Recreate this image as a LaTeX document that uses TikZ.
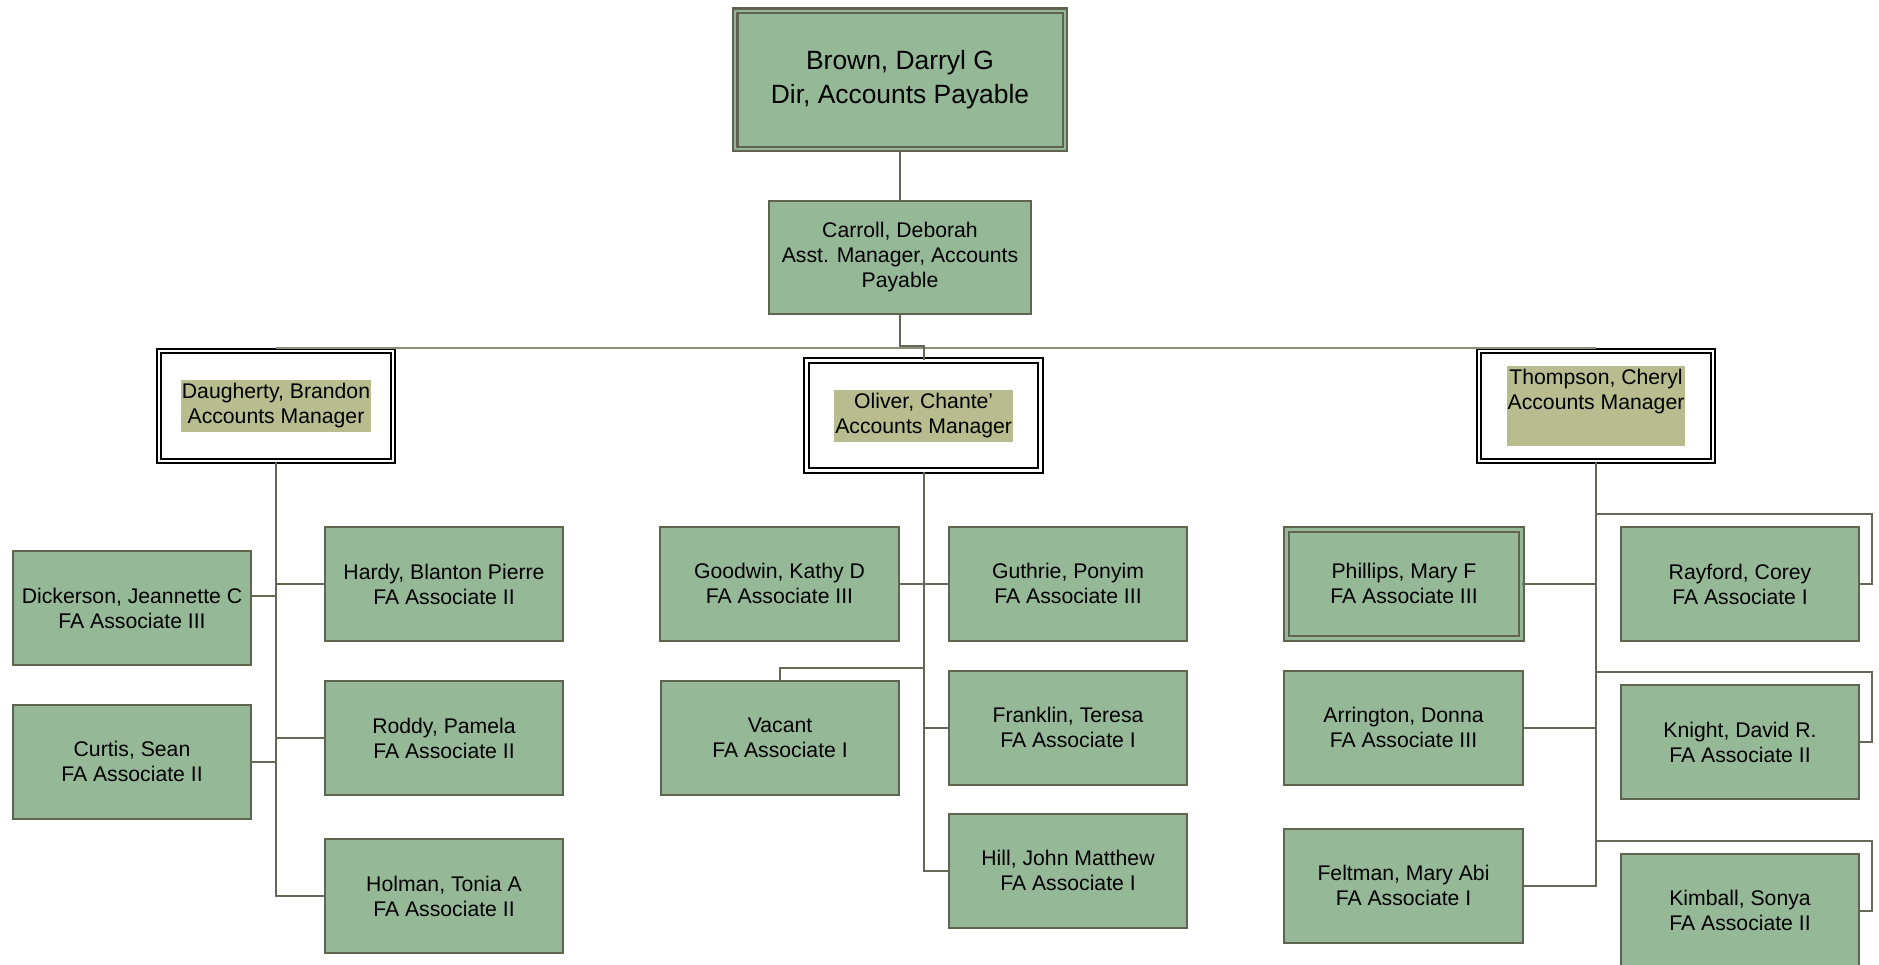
\documentclass[tikz,border=0pt]{standalone}
\usepackage{fontspec}
\setmainfont{Liberation Sans}
\usepackage{tikz}
\usetikzlibrary{positioning}
\definecolor{boxfill}{RGB}{149,184,151}
\definecolor{boxline}{RGB}{95,99,80}
\definecolor{hlfill}{RGB}{184,188,143}
\definecolor{linkcol}{RGB}{100,104,86}
\definecolor{buscol}{RGB}{140,142,122}
\newcommand{\stafffont}{\fontsize{10.6pt}{12.5pt}\selectfont}
\tikzset{
  staff/.style={draw=boxline, fill=boxfill, line width=1pt, minimum width=119.3pt, minimum height=57pt, inner sep=0pt, align=center, font=\stafffont},
  staffdbl/.style={staff, double=boxfill, line width=1.1pt, double distance=1.4pt, minimum width=117.2pt, minimum height=54.4pt},
  head/.style={staffdbl, double distance=1.2pt, minimum width=164.9pt, minimum height=69.1pt, font=\fontsize{13.2pt}{17pt}\selectfont},
  mgr/.style={draw=black, fill=white, double=white, line width=1pt, double distance=1.3pt, minimum width=117pt, minimum height=55pt},
  mgrtext/.style={fill=hlfill, inner xsep=0.5pt, inner ysep=1.8pt, align=center, font=\stafffont},
  link/.style={draw=linkcol, line width=1pt},
  bus/.style={draw=buscol, line width=0.8pt}
}
\begin{document}
\begin{tikzpicture}[x=0.5pt,y=-0.5pt]
  \useasboundingbox (0,0) rectangle (1879,964);
  \node[head] (brown) at (900,79.8) {Brown, Darryl G\\Dir, Accounts Payable};
  \node[staff, minimum width=131.3pt, minimum height=56.5pt] (carroll) at (900,257.5) {Carroll, Deborah\\Asst. Manager, Accounts\\Payable};

  \node[mgr] (dau) at (276,406) {};
  \node[mgrtext] (daut) at (dau) {Daugherty, Brandon\\Accounts Manager};
  \node[mgr] (oli) at (923.7,415.7) {};
  \node[mgrtext] (olit) at (oli) {Oliver, Chante’\\Accounts Manager};
  \node[mgr] (tho) at (1596,406) {};
  \node[mgrtext] (thot) at (tho) {Thompson, Cheryl\\Accounts Manager\\\strut};

  \node[staff] (dick) at (132,608) {Dickerson, Jeannette C\\FA Associate III};
  \node[staff] (hardy) at (444,584) {Hardy, Blanton Pierre\\FA Associate II};
  \node[staff] (curtis) at (132,761.5) {Curtis, Sean\\FA Associate II};
  \node[staff] (roddy) at (444,738) {Roddy, Pamela\\FA Associate II};
  \node[staff] (holman) at (444,896.3) {Holman, Tonia A\\FA Associate II};

  \node[staff] (goodwin) at (779.5,583.5) {Goodwin, Kathy D\\FA Associate III};
  \node[staff] (guthrie) at (1068,583.5) {Guthrie, Ponyim\\FA Associate III};
  \node[staff] (vacant) at (780,737.5) {Vacant\\FA Associate I};
  \node[staff] (franklin) at (1068,727.5) {Franklin, Teresa\\FA Associate I};
  \node[staff] (hill) at (1068,870.5) {Hill, John Matthew\\FA Associate I};

  \node[staffdbl] (phillips) at (1404,583.7) {Phillips, Mary F\\FA Associate III};
  \node[staff] (arrington) at (1403.5,727.5) {Arrington, Donna\\FA Associate III};
  \node[staff] (feltman) at (1403.5,885.5) {Feltman, Mary Abi\\FA Associate I};
  \node[staff] (rayford) at (1740,584) {Rayford, Corey\\FA Associate I};
  \node[staff] (knight) at (1740,742) {Knight, David R.\\FA Associate II};
  \node[staff] (kimball) at (1740,910.5) {Kimball, Sonya\\FA Associate II};

  \draw[link] (brown) -- (carroll);
  \draw[bus] ([yshift=1pt]dau.north) -- ([yshift=1pt]tho.north);
  \draw[link] (carroll.south) -- ++(0,-15.5pt) -| (oli.north);

  \draw[link] (dau.south) |- (holman.west);
  \draw[link] ([yshift=6pt]dick.east) -- ([yshift=6pt]dick.east -| dau.south);
  \foreach \n in {hardy,roddy,curtis}
    \draw[link] (\n) -- (\n -| dau.south);

  \draw[link] (oli.south) |- (hill.west);
  \draw[link] (goodwin.east) -- (guthrie.west);
  \draw[link] (franklin.west) -- (franklin.west -| oli.south);
  \draw[link] (vacant.north) -- ++(0,6pt) -| (oli.south);

  \draw[link] (tho.south) |- (feltman.east);
  \foreach \n in {phillips,arrington}
    \draw[link] (\n.east) -- (\n.east -| tho.south);
  \foreach \n in {rayford,knight,kimball}
    \draw[link] (\n.east) -- ++(6pt,0) |- ([yshift=6pt]\n.north) -| (tho.south);
\end{tikzpicture}
\end{document}
